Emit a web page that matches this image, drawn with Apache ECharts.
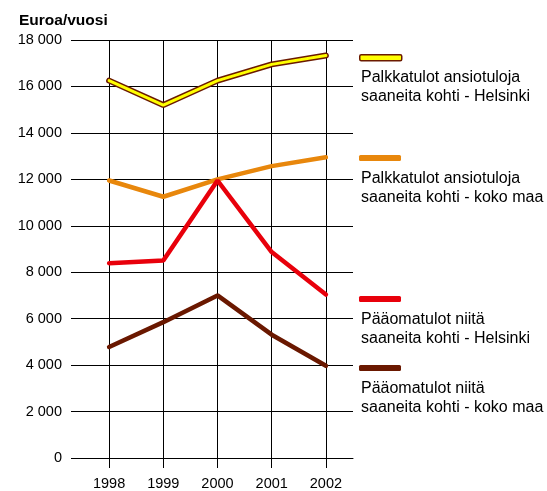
<!DOCTYPE html>
<html>
<head>
<meta charset="utf-8">
<script src="https://cdn.jsdelivr.net/npm/echarts@6/dist/echarts.min.js"></script>
<style>
  html, body { margin: 0; padding: 0; background: #fff; }
  #chart { width: 547px; height: 491px; }
</style>
</head>
<body>
<div id="chart"></div>
<script>
// vuodet
var years = ['1998', '1999', '2000', '2001', '2002']
// euroa / vuosi
var palkkaHelsinki = [16250, 15200, 16250, 16950, 17330]
var palkkaKokoMaa = [11950, 11250, 12000, 12570, 12950]
var paaomaHelsinki = [8390, 8500, 11950, 8870, 7040]
var paaomaKokoMaa = [4780, 5850, 7000, 5310, 3970]
var seriesNames = [
  'Palkkatulot ansiotuloja\nsaaneita kohti - Helsinki',
  'Palkkatulot ansiotuloja\nsaaneita kohti - koko maa',
  'Pääomatulot niitä\nsaaneita kohti - Helsinki',
  'Pääomatulot niitä\nsaaneita kohti - koko maa'
]

var fontFamily = '"Liberation Sans", Arial, sans-serif'
var yellow = '#ffff00'
var outline = '#6b1a00'
var orange = '#e8870c'
var red = '#e8000b'
var brown = '#6a1800'

// legendan ikonit (teksti ikonin alla)
var legendIcons = [
  { name: seriesNames[0], y: 57, color: yellow, border: outline },
  { name: seriesNames[1], y: 158, color: orange },
  { name: seriesNames[2], y: 299, color: red },
  { name: seriesNames[3], y: 368, color: brown }
]
var legendTextTop = [68, 169, 310, 379]

function fmt(v) {
  return String(v).replace(/\B(?=(\d{3})+(?!\d))/g, ' ')
}

var chart = echarts.init(document.getElementById('chart'))

var option = {
  animation: false,
  backgroundColor: '#fff',
  title: {
    text: 'Euroa/vuosi',
    left: 14,
    top: 8,
    textStyle: { fontFamily: fontFamily, fontSize: 15.5, fontWeight: 'bold', color: '#000' }
  },
  grid: { left: 82, right: 194, top: 40, bottom: 33 },
  legend: legendIcons.map(function (item) {
    return {
      left: 359,
      top: item.y - 3,
      padding: 0,
      itemWidth: 42,
      itemHeight: 6,
      selectedMode: false,
      formatter: function () { return '' },
      data: [{
        name: item.name,
        icon: 'roundRect',
        itemStyle: {
          color: item.color,
          borderColor: item.border || item.color,
          borderWidth: item.border ? 1.5 : 0
        }
      }]
    }
  }),
  graphic: seriesNames.map(function (name, i) {
    return {
      type: 'text',
      left: 361,
      top: legendTextTop[i],
      style: {
        text: name,
        font: '16px ' + fontFamily,
        lineHeight: 19,
        fill: '#000'
      }
    }
  }),
  xAxis: {
    type: 'category',
    data: years,
    boundaryGap: true,
    axisLine: { show: true, lineStyle: { color: '#000', width: 1 } },
    axisTick: { show: true, alignWithLabel: true, length: 10, lineStyle: { color: '#000' } },
    splitLine: { show: true, alignWithLabel: true, lineStyle: { color: '#000', width: 1 } },
    axisLabel: { fontFamily: fontFamily, fontSize: 14.5, color: '#000', margin: 18 }
  },
  yAxis: {
    type: 'value',
    min: 0,
    max: 18000,
    interval: 2000,
    axisLine: { show: false },
    axisTick: { show: true, length: 11, lineStyle: { color: '#000' } },
    splitLine: { show: true, lineStyle: { color: '#000', width: 1 } },
    axisLabel: { fontFamily: fontFamily, fontSize: 14.5, color: '#000', margin: 20, formatter: fmt }
  },
  series: [
    {
      name: 'outline',
      type: 'line',
      data: palkkaHelsinki,
      symbol: 'none',
      lineStyle: { color: outline, width: 6, cap: 'round' },
      z: 2
    },
    {
      name: seriesNames[0],
      type: 'line',
      data: palkkaHelsinki,
      symbol: 'none',
      itemStyle: { color: yellow },
      lineStyle: { color: yellow, width: 3, cap: 'round' },
      z: 3
    },
    {
      name: seriesNames[1],
      type: 'line',
      data: palkkaKokoMaa,
      symbol: 'none',
      itemStyle: { color: orange },
      lineStyle: { color: orange, width: 4.5, cap: 'round' },
      z: 2
    },
    {
      name: seriesNames[2],
      type: 'line',
      data: paaomaHelsinki,
      symbol: 'none',
      itemStyle: { color: red },
      lineStyle: { color: red, width: 4.5, cap: 'round' },
      z: 3
    },
    {
      name: seriesNames[3],
      type: 'line',
      data: paaomaKokoMaa,
      symbol: 'none',
      itemStyle: { color: brown },
      lineStyle: { color: brown, width: 4.5, cap: 'round' },
      z: 2
    }
  ]
}

chart.setOption(option)
</script>
</body>
</html>
